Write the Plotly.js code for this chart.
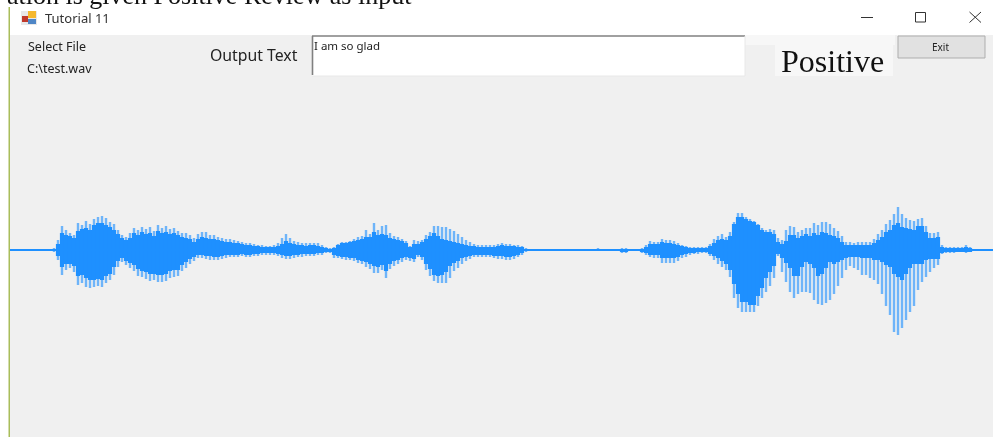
<!DOCTYPE html>
<html><head><meta charset="utf-8">
<script src="https://cdn.plot.ly/plotly-3.0.1.min.js"></script>
<style>html,body{margin:0;padding:0;background:#fff;overflow:hidden}#g{width:993px;height:437px;filter:blur(0.45px)}</style>
</head><body><div id="g"></div>
<script>
const spikeStart = 54, spikeStep = 4;
const spikeUp = [2,10,24,20,17,15,27,25,29,26,31,33,34,32,28,26,20,15,13,17,22,20,23,21,23,19,25,22,24,21,22,19,17,17,15,12,16,18,18,15,15,13,12,11,11,10,9,8,7,7,6,5,5,4,4,5,7,12,16,12,9,8,7,7,7,7,7,5,3,2,
3,6,8,8,9,11,13,14,20,16,27,20,24,25,17,14,13,11,9,4,10,9,10,15,18,24,24,23,23,21,19,16,13,10,8,6,5,5,5,5,5,6,7,6,6,5,5,4,2,1,
1,1,1,1,1,1,1,1,1,1,1,1,1,1,1,1,2,1,1,1,1,1,2,2,1,1,1,2,5,9,8,8,11,10,10,9,7,5,4,3,3,3,3,3,6,11,14,16,13,18,28,37,37,33,31,29,26,22,20,21,20,12,10,20,24,23,18,20,22,22,27,25,28,28,26,22,19,14,8,8,7,8,8,8,8,11,16,20,26,30,36,43,36,32,30,29,31,32,24,17,17,18,5,3,3,3,3,3,5,3,1,1];
const spikeDown = [2,10,25,20,18,22,35,33,37,38,37,36,37,33,30,25,17,12,15,18,21,26,27,29,31,30,32,32,31,28,27,26,21,18,14,11,8,8,9,10,10,10,9,8,7,7,7,6,7,7,6,6,5,5,5,5,6,8,9,9,8,7,7,6,6,6,5,5,3,3,
8,8,9,10,10,11,13,14,17,19,23,23,20,28,19,16,14,12,10,11,12,7,10,20,26,31,33,33,33,28,21,18,14,11,9,7,7,7,7,7,8,9,9,10,10,9,7,5,2,1,
1,1,1,1,1,1,1,1,1,1,1,1,1,1,1,1,1,1,1,1,1,1,3,3,1,1,1,3,5,7,8,8,13,13,13,13,11,8,7,5,4,4,3,3,6,10,14,17,20,27,48,58,62,62,62,62,56,48,42,36,28,6,22,32,42,48,44,42,42,43,50,54,55,53,50,44,36,28,20,16,18,20,25,25,28,30,34,44,56,65,82,85,78,70,62,56,40,32,27,22,18,15,4,3,3,3,2,2,3,2,1,1];
const coreUp = [1,6,17,15,14,12,19,21,22,20,25,27,27,25,23,20,16,12,10,12,17,15,18,16,17,14,19,17,18,16,17,15,13,12,11,8,11,13,12,11,11,10,9,8,8,7,7,6,5,5,4,4,3,3,3,3,4,6,9,7,6,5,5,4,5,5,4,3,2,1,
2,5,7,7,8,9,10,11,13,13,18,15,16,15,12,11,10,9,7,3,6,6,8,11,14,17,14,11,10,9,8,7,6,5,4,4,3,3,3,3,3,4,5,4,4,4,3,3,1,1,
1,1,1,1,1,1,1,1,1,1,1,1,1,1,1,1,1,1,1,1,1,1,1,1,1,1,1,1,3,6,6,6,8,7,7,6,5,4,3,2,2,2,2,2,4,7,10,11,10,14,26,33,33,31,29,28,25,20,18,18,16,8,6,9,15,15,12,14,16,14,17,15,18,17,15,14,12,8,5,5,5,5,5,5,5,7,10,13,18,20,25,27,23,22,21,20,24,24,18,12,12,13,3,2,2,2,2,2,3,2,1,1];
const coreDown = [1,6,17,14,14,16,26,25,28,30,30,29,30,26,24,17,11,8,11,13,15,19,21,22,24,24,25,25,24,21,20,20,15,12,9,7,5,5,6,6,7,7,6,5,5,5,5,4,5,5,4,4,3,3,3,3,4,5,6,6,5,5,4,4,4,4,3,3,2,2,
5,6,7,7,8,8,10,11,12,14,16,17,15,21,14,11,10,8,7,8,9,5,7,14,19,25,26,25,22,16,13,11,8,7,6,5,5,5,5,5,6,6,6,7,7,6,5,3,1,1,
1,1,1,1,1,1,1,1,1,1,1,1,1,1,1,1,1,1,1,1,1,1,2,2,1,1,1,2,3,5,5,5,8,8,8,8,7,5,4,3,3,2,2,2,4,6,8,11,14,20,34,44,52,52,55,55,46,38,28,22,16,4,8,13,18,26,26,17,12,14,18,26,24,18,12,14,12,10,8,7,7,7,8,8,8,10,10,12,15,17,24,27,30,24,18,14,14,14,10,9,9,9,3,2,2,2,2,2,2,2,1,1];
const baseline = [0, 0];
const baselineTimes = [10, 993];
const labels = {title:"Tutorial 11", select:"Select File", file:"C:\\test.wav", output:"Output Text", text:"I am so glad", result:"Positive", exit:"Exit", caption:"ation is given Positive Review as input"};

const W = 993, H = 437, L = 10, T = 35;
const px = v => (v - L) / (W - L);
const py = v => (H - v) / (H - T);
const blue = "#1e90ff";
const spikeX = spikeUp.map((_, i) => spikeStart + i * spikeStep);

const traces = [
 {type:"bar", x:spikeX, y:spikeUp.map((u,i)=>u+spikeDown[i]), base:spikeDown.map(d=>-d), width:2.4, marker:{color:"rgba(30,144,255,0.62)", line:{width:0}}, hoverinfo:"skip"},
 {type:"bar", x:spikeX, y:coreUp.map((u,i)=>u+coreDown[i]), base:coreDown.map(d=>-d), width:4.2, marker:{color:blue, line:{width:0}}, hoverinfo:"skip"},
 {type:"scatter", mode:"lines", x:baselineTimes, y:baseline, line:{color:blue,width:2}, hoverinfo:"skip"}
];

const rect = (x0,y0,x1,y1,fill,lineColor,lw) => ({type:"rect",layer:"above",xref:"paper",yref:"paper",x0:px(x0),x1:px(x1),y0:py(y0),y1:py(y1),fillcolor:fill,line:{color:lineColor||fill,width:lw||0}});
const seg = (x0,y0,x1,y1,c,w) => ({type:"line",layer:"above",xref:"paper",yref:"paper",x0:px(x0),x1:px(x1),y0:py(y0),y1:py(y1),line:{color:c,width:w}});
const shapes = [
 rect(8.5,7,10,437,"#a9bd5a"),
 rect(745,35,895,45,"#f7f7f7"),
 rect(775,45,893,76,"#f7f7f7"),
 rect(312,35,745,76,"#ffffff"),
 seg(312,36,745,36,"#808080",1.6),
 seg(312.5,36,312.5,75,"#808080",1.6),
 seg(745,36,745,76,"#e8e8e8",1),
 seg(312,76,745,76,"#e8e8e8",1),
 rect(898,36,985,58,"#e1e1e1","#adadad",1),
 seg(861,17.5,873,17.5,"#333",1),
 rect(915.5,12.5,925.5,22,"rgba(0,0,0,0)","#333",1),
 seg(969.5,12,981,22.5,"#333",1),
 seg(981,12,969.5,22.5,"#333",1),
 rect(21,11,37,25,"#e8e8e8"),
 rect(28,11,36,18,"#f5b82e"),
 rect(22,16,28,22,"#c0392b"),
 rect(28,19,36,24,"#4f86c6")
];
const note = (x,y,text,size,family,anchor,color) => ({xref:"paper",yref:"paper",x:px(x),y:py(y),text,showarrow:false,xanchor:anchor||"left",yanchor:"middle",font:{size,family,color:color||"#222"},borderpad:0,borderwidth:0});
const sans = "Noto Sans, Open Sans, sans-serif";
const annotations = [
 note(412,-5,labels.caption,26,"Liberation Serif","right","#111"),
 note(45,18,labels.title,13,sans,"left","#333"),
 note(28,47,labels.select,12.5,sans),
 note(27,68,labels.file,12.5,sans),
 note(210,55,labels.output,15.8,sans),
 note(314,45,labels.text,11.5,sans),
 note(781,61,labels.result,32,"Liberation Serif","left","#111"),
 note(940,47,labels.exit,10,sans,"center")
];
Plotly.newPlot("g", traces, {
 width:W, height:H, margin:{l:L,r:0,t:T,b:0,pad:0}, showlegend:false,
 paper_bgcolor:"#ffffff", plot_bgcolor:"#f0f0f0",
 xaxis:{range:[L,W],visible:false,fixedrange:true},
 yaxis:{range:[-187,215],visible:false,fixedrange:true},
 barmode:"overlay", shapes, annotations
}, {displayModeBar:false, staticPlot:true});
</script></body></html>
